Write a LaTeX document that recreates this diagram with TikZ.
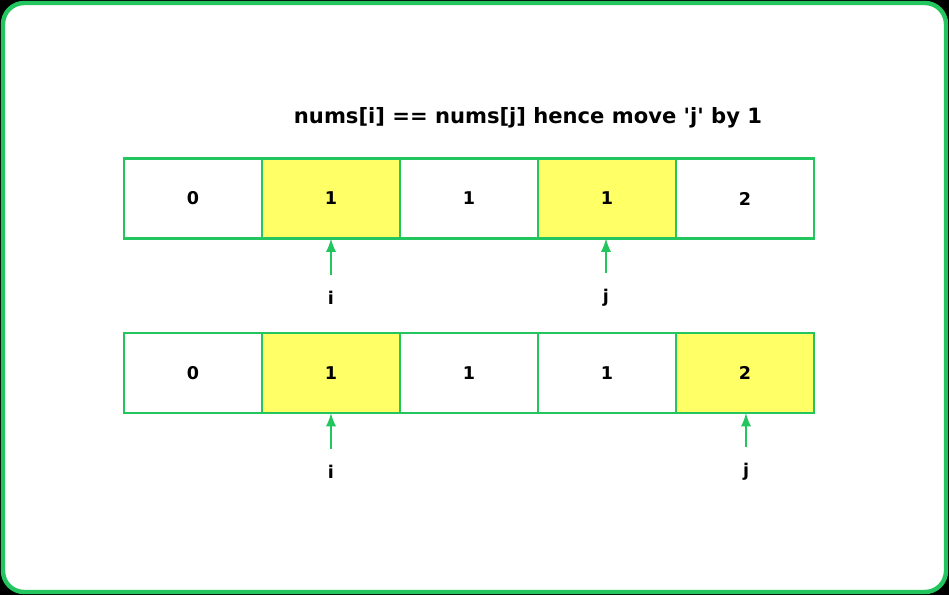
\documentclass[tikz,border=0pt]{standalone}
\usepackage{fontspec}
\setmainfont{DejaVu Sans}
\usetikzlibrary{positioning}
\definecolor{cellgreen}{RGB}{34,197,94}
\definecolor{cellyellow}{RGB}{255,255,102}
\begin{document}
\begin{tikzpicture}[
  x=0.02cm, y=-0.02cm, node distance=0cm,
  cell/.style={draw=cellgreen, line width=1.2pt, fill=white, minimum width=2.76cm,
    minimum height=1.6cm, outer sep=0pt, font=\bfseries},
  hit/.style={cell, fill=cellyellow},
  ptr/.style={draw=cellgreen, line width=1.6pt, -latex, shorten <=6pt},
  lbl/.style={font=\bfseries}
]
  \fill[black] (0,0) rectangle (949,595);
  \useasboundingbox (0,0) rectangle (949,595);
  \draw[cellgreen, line width=2.5pt, fill=white, rounded corners=12pt] (3,3) rectangle (946,592);

  \node[font=\bfseries\large] (title) at (528,118) {nums[i] == nums[j] hence move \textquotesingle j\textquotesingle{} by 1};

  % first row
  \node[cell] (a-0) at (193,198.5) {0};
  \node[hit, right=of a-0] (a-1) {1};
  \node[cell, right=of a-1] (a-2) {1};
  \node[hit, right=of a-2] (a-3) {1};
  \node[cell, right=of a-3] (a-4) {2};

  \node[lbl] (a-i) at (331,298) {i};
  \node[lbl] (a-j) at (606,298) {j};
  \draw[ptr] (a-i.north) -- (a-i.north |- a-1.south);
  \draw[ptr] (a-j.north) -- (a-j.north |- a-3.south);

  % second row
  \node[cell] (b-0) at (193,373) {0};
  \node[hit, right=of b-0] (b-1) {1};
  \node[cell, right=of b-1] (b-2) {1};
  \node[cell, right=of b-2] (b-3) {1};
  \node[hit, right=of b-3] (b-4) {2};

  \node[lbl] (b-i) at (331,472) {i};
  \node[lbl] (b-j) at (746,472) {j};
  \draw[ptr] (b-i.north) -- (b-i.north |- b-1.south);
  \draw[ptr] (b-j.north) -- (b-j.north |- b-4.south);
\end{tikzpicture}
\end{document}
